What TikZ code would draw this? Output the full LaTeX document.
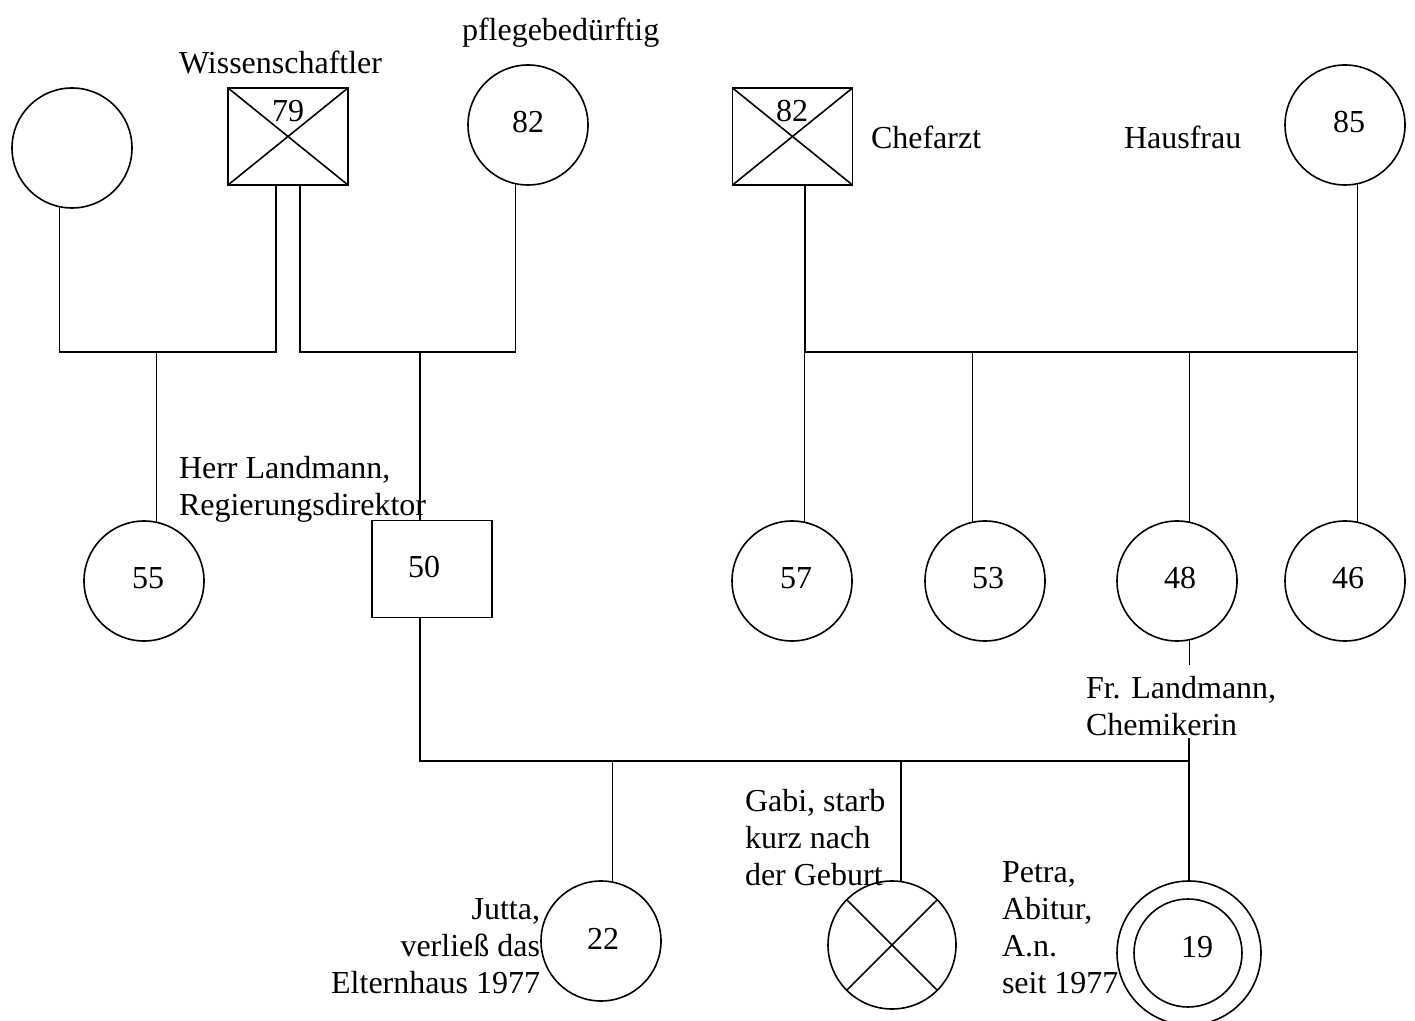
\documentclass[tikz,border=0pt]{standalone}
\usepackage{fontspec}
\setmainfont{Liberation Serif}
\usetikzlibrary{calc}
\begin{document}
\begin{tikzpicture}[x=0.375pt,y=-0.375pt,
  every node/.style={font=\fontsize{12}{13.85}\selectfont, inner sep=0pt, outer sep=0pt},
  line/.style={line width=0.6pt},
  fem/.style={circle, draw, line width=0.6pt, minimum size=45pt},
  male/.style={rectangle, draw, line width=0.6pt, minimum width=45pt, minimum height=36.4pt},
  note/.style={align=left}]
\useasboundingbox (0,0) rectangle (1415,1021);

% --- grandparents ---
\node[fem]  (gmA) at (72,148) {};
\node[male] (gfA) at (288,136.5) {};
\node (gfAage) at (288,111) {79};
\node[fem]  (gmB) at (528,125) {};
\node (gmBage) at (528,122.5) {82};
\node[male] (mgf) at (792.5,136.5) {};
\node (mgfage) at (792,111) {82};
\node[fem]  (mgm) at (1345,125) {};
\node (mgmage) at (1349,122.5) {85};
\draw[line] (gfA.north west) -- (gfA.south east) (gfA.north east) -- (gfA.south west);
\draw[line] (mgf.north west) -- (mgf.south east) (mgf.north east) -- (mgf.south west);

\node[anchor=base west] (lblSci)  at (179,74)  {Wissenschaftler};
\node[anchor=base west] (lblCare) at (462,41)  {pflegebedürftig};
\node[anchor=base west] (lblDoc)  at (871,149) {Chefarzt};
\node[anchor=base west] (lblHome) at (1124,149) {Hausfrau};

% --- parents' generation ---
\node[fem]  (c55) at (144,581) {};
\node (c55age) at (148,578) {55};
\node[male] (hl) at (432,569) {};
\node (hlage) at (424,567) {50};
\node[fem]  (c57) at (792,581) {};
\node (c57age) at (796,578) {57};
\node[fem]  (c53) at (985,581) {};
\node (c53age) at (988,578) {53};
\node[fem]  (c48) at (1177,581) {};
\node (c48age) at (1180,578) {48};
\node[fem]  (c46) at (1345,581) {};
\node (c46age) at (1348,578) {46};

\node[note, anchor=north west] (lblHL) at (179,456) {Herr Landmann,\\Regierungsdirektor};
\node[note, anchor=north west] (lblFL) at (1086,676) {Fr. Landmann,\\Chemikerin};

% --- children ---
\node[fem] (c22) at (601,941) {};
\node (c22age) at (603,939) {22};
\node[fem, minimum size=48pt] (cg) at (892,945) {};
\draw[line] (cg.45) -- (cg.225) (cg.135) -- (cg.315);
\node[fem, minimum size=54pt] (c19) at (1189,953) {};
\node[fem, minimum size=40.5pt] (c19i) at (1188,953) {};
\node (c19age) at (1197,947) {19};

\node[align=right, anchor=north east] (lblJ) at (540,899) {Jutta,\\verließ das\\Elternhaus 1977};
\node[note, anchor=north west] (lblG) at (745,789) {Gabi, starb\\kurz nach\\der Geburt};
\node[note, anchor=north west] (lblP) at (1002,862) {Petra,\\Abitur,\\A.n.\\seit 1977};

% --- marriage and descent lines ---
\coordinate (u1) at (276,352);
\draw[line] (gmA.258) |- (u1) -- (gfA.south -| u1);
\draw[line] (c55.78 |- u1) -- (c55.78);

\coordinate (u2) at (300,352);
\draw[line] (gfA.south -| u2) -- (u2) -| (gmB.258);
\coordinate (d2) at (420,352);
\draw[line] (d2) -- (hl.north -| d2);

\coordinate (u3) at (805,352);
\draw[line] (mgf.south -| u3) -- (u3) -| (mgm.282);
\draw[line] (c57.78 |- u3) -- (c57.78);
\draw[line] (c53.102 |- u3) -- (c53.102);
\draw[line] (c48.78 |- u3) -- (c48.78);
\draw[line] (c46.78 |- u3) -- (c46.78);

\coordinate (u4) at (420,761);
\draw[line] (hl.south -| u4) -- (u4) -- (c19.north |- u4);
\draw[line] (c48.282) -- ($(lblFL.north -| c48.282)+(0,-11)$);
\draw[line] ($(lblFL.south -| c19.north)+(0,3)$) -- (c19.north);
\draw[line] (c22.79 |- u4) -- (c22.79);
\draw[line] (cg.82 |- u4) -- (cg.82);
\end{tikzpicture}
\end{document}
